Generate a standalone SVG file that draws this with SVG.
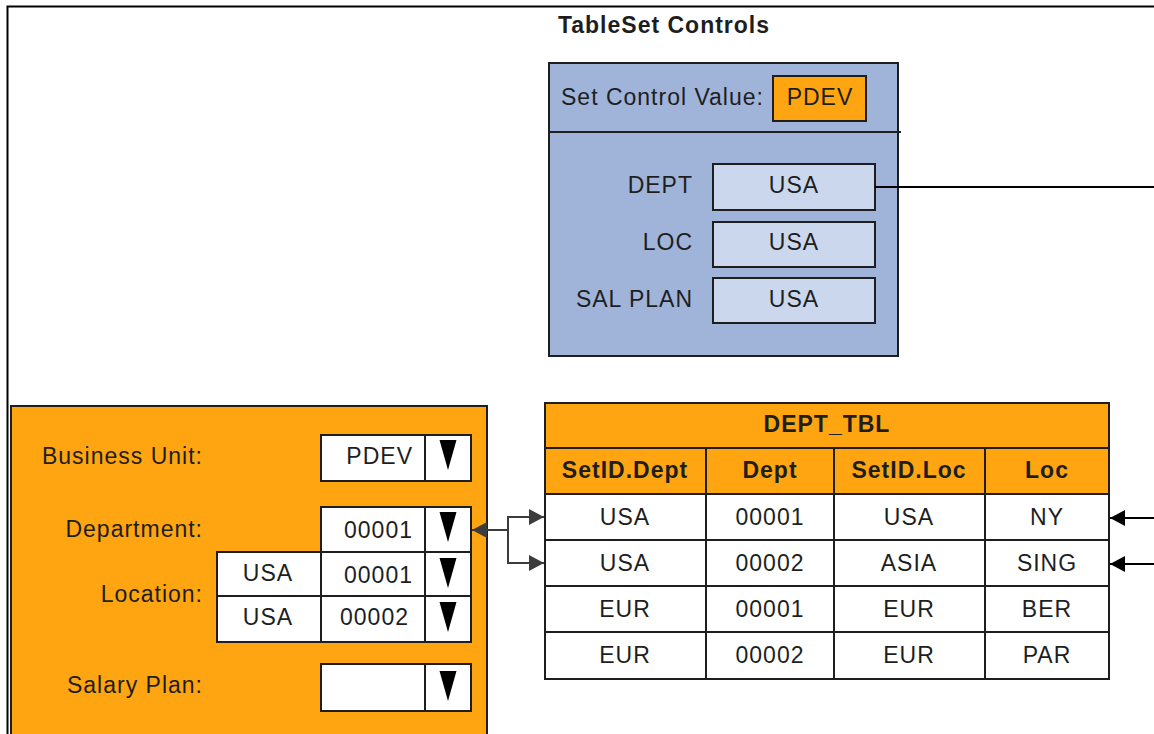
<svg xmlns="http://www.w3.org/2000/svg" width="1154" height="734" viewBox="0 0 1154 734">
<style>
text{font-family:"Liberation Sans",Arial,sans-serif;font-size:23px;letter-spacing:1px;fill:#1e1e1e}
.b{font-weight:bold}
.m{text-anchor:middle}
.e{text-anchor:end}
.blue{fill:#a0b4da;stroke:#1e1e1e;stroke-width:2}
.lb{fill:#cad7ec;stroke:#1e1e1e;stroke-width:2}
.or{fill:#ffa511;stroke:#1e1e1e;stroke-width:2}
.wh{fill:#ffffff;stroke:#1e1e1e;stroke-width:2}
.ln{fill:none;stroke:#1e1e1e;stroke-width:2}
.gc{fill:none;stroke:#3c3c3c;stroke-width:2}
.bc{fill:none;stroke:#000;stroke-width:2}
</style>
<defs>
<marker id="ag" viewBox="0 0 15 16" refX="15" refY="8" markerWidth="15" markerHeight="16" markerUnits="userSpaceOnUse" orient="auto"><path d="M0,0 L15,8 L0,16 z" fill="#3c3c3c"/></marker>
<marker id="ab" viewBox="0 0 15 16" refX="15" refY="8" markerWidth="15" markerHeight="16" markerUnits="userSpaceOnUse" orient="auto"><path d="M0,0 L15,8 L0,16 z" fill="#000"/></marker>
<polygon id="dd" points="0,0 17,0 8.5,30"/>
</defs>
<rect width="1154" height="734" fill="#fff"/>
<path d="M7.5,734 V6.5 H1154" fill="none" stroke="#000" stroke-width="2"/>

<g id="title"><text class="b m" x="664" y="33">TableSet Controls</text></g>

<g id="tableset-controls">
<rect class="blue" x="549" y="63" width="349" height="293"/>
<line class="ln" x1="549" y1="132" x2="901" y2="132"/>
<text x="561" y="105">Set Control Value:</text>
<rect class="or" x="773" y="76" width="93" height="45"/>
<text class="m" x="820" y="105">PDEV</text>
<text class="e" x="693" y="193">DEPT</text>
<rect class="lb" x="713" y="164" width="162" height="46"/>
<text class="m" x="794" y="193">USA</text>
<text class="e" x="693" y="250">LOC</text>
<rect class="lb" x="713" y="222" width="162" height="45"/>
<text class="m" x="794" y="250">USA</text>
<text class="e" x="693" y="307">SAL PLAN</text>
<rect class="lb" x="713" y="278" width="162" height="45"/>
<text class="m" x="794" y="307">USA</text>
</g>

<g id="page-panel">
<rect class="or" x="11" y="406" width="476" height="340"/>
<text class="e" x="203" y="464">Business Unit:</text>
<rect class="wh" x="321" y="435" width="150" height="46"/>
<line class="ln" x1="425" y1="435" x2="425" y2="481"/>
<text class="e" x="413" y="464">PDEV</text>
<use href="#dd" x="439.5" y="440"/>

<text class="e" x="203" y="537">Department:</text>
<rect class="wh" x="321" y="507" width="150" height="45"/>
<line class="ln" x1="425" y1="507" x2="425" y2="552"/>
<text class="e" x="413" y="538">00001</text>
<use href="#dd" x="439.5" y="512"/>

<text class="e" x="203" y="602">Location:</text>
<rect class="wh" x="217" y="552" width="254" height="90"/>
<line class="ln" x1="217" y1="596" x2="471" y2="596"/>
<line class="ln" x1="321" y1="552" x2="321" y2="642"/>
<line class="ln" x1="425" y1="552" x2="425" y2="642"/>
<text class="m" x="268" y="581">USA</text>
<text class="e" x="413" y="583">00001</text>
<use href="#dd" x="439.5" y="558"/>
<text class="m" x="268" y="625">USA</text>
<text class="e" x="409" y="625">00002</text>
<use href="#dd" x="439.5" y="602"/>

<text class="e" x="203" y="693">Salary Plan:</text>
<rect class="wh" x="321" y="664" width="150" height="47"/>
<line class="ln" x1="425" y1="664" x2="425" y2="711"/>
<use href="#dd" x="439.5" y="671"/>
</g>

<g id="dept-tbl">
<rect class="or" x="545" y="403" width="564" height="45"/>
<text class="b m" x="827" y="432">DEPT_TBL</text>
<rect class="or" x="545" y="448" width="564" height="46"/>
<rect class="wh" x="545" y="494" width="564" height="185"/>
<line class="ln" x1="545" y1="540" x2="1109" y2="540"/>
<line class="ln" x1="545" y1="586" x2="1109" y2="586"/>
<line class="ln" x1="545" y1="632" x2="1109" y2="632"/>
<line class="ln" x1="706" y1="448" x2="706" y2="679"/>
<line class="ln" x1="834" y1="448" x2="834" y2="679"/>
<line class="ln" x1="985" y1="448" x2="985" y2="679"/>
<text class="b m" x="625" y="478">SetID.Dept</text>
<text class="b m" x="770" y="478">Dept</text>
<text class="b m" x="909" y="478">SetID.Loc</text>
<text class="b m" x="1047" y="478">Loc</text>
<text class="m" x="625" y="525">USA</text><text class="m" x="770" y="525">00001</text><text class="m" x="909" y="525">USA</text><text class="m" x="1047" y="525">NY</text>
<text class="m" x="625" y="571">USA</text><text class="m" x="770" y="571">00002</text><text class="m" x="909" y="571">ASIA</text><text class="m" x="1047" y="571">SING</text>
<text class="m" x="625" y="617">EUR</text><text class="m" x="770" y="617">00001</text><text class="m" x="909" y="617">EUR</text><text class="m" x="1047" y="617">BER</text>
<text class="m" x="625" y="663">EUR</text><text class="m" x="770" y="663">00002</text><text class="m" x="909" y="663">EUR</text><text class="m" x="1047" y="663">PAR</text>
</g>

<g id="connectors">
<line class="bc" x1="875" y1="187" x2="1154" y2="187"/>
<path class="gc" d="M508,530 H472" marker-end="url(#ag)"/>
<path class="gc" d="M508,530 V517 H544" marker-end="url(#ag)"/>
<path class="gc" d="M508,530 V563 H544" marker-end="url(#ag)"/>
<path class="bc" d="M1154,518 H1110" marker-end="url(#ab)"/>
<path class="bc" d="M1154,564 H1110" marker-end="url(#ab)"/>
</g>
</svg>
